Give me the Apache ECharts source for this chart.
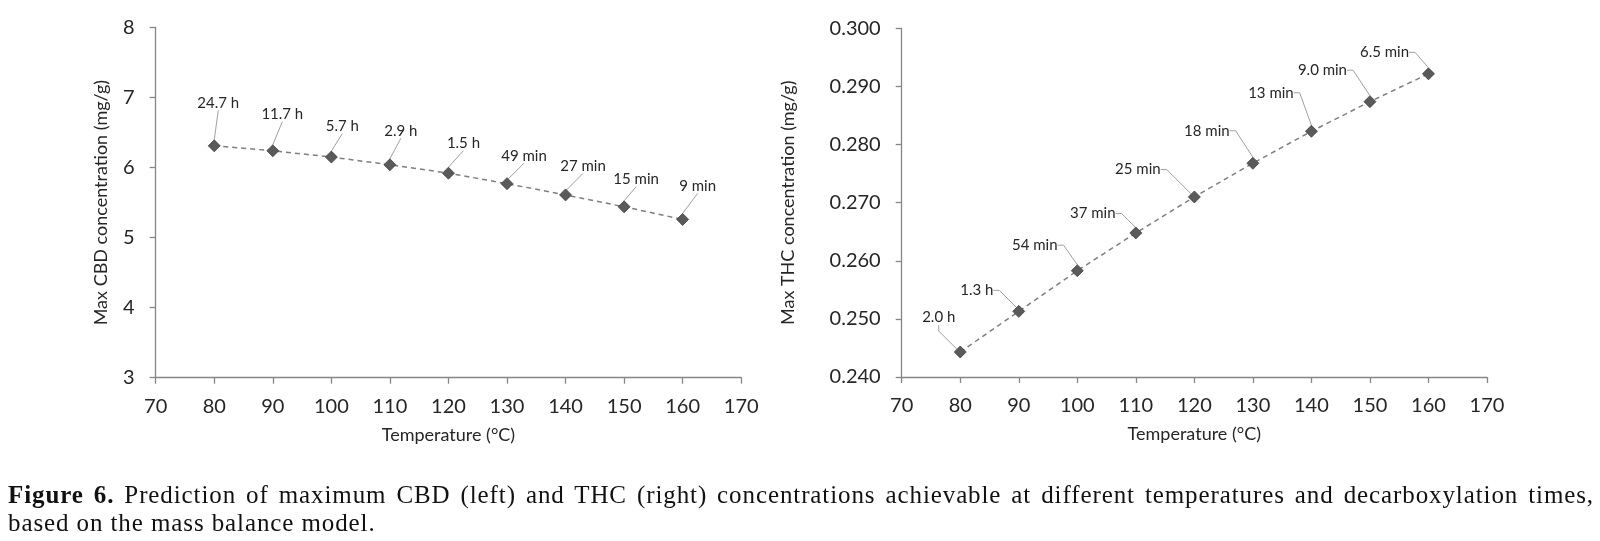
<!DOCTYPE html>
<html>
<head>
<meta charset="utf-8">
<script src="https://cdn.jsdelivr.net/npm/echarts@6/dist/echarts.min.js"></script>
<style>
  html, body { margin: 0; padding: 0; background: #ffffff; }
  #chart { position: absolute; left: 0; top: 0; width: 1600px; height: 541px; }
  #caption { position: absolute; left: 8px; top: 481px; width: 1586px; font-family: 'Liberation Serif', 'DejaVu Serif', serif; font-size: 25px; letter-spacing: 0.9px; line-height: 28px; color: #111111; }
  #caption .l1 { text-align: justify; text-align-last: justify; }
</style>
</head>
<body>
<div id="chart"></div>
<div id="caption">
  <div class="l1"><b>Figure 6.</b> Prediction of maximum CBD (left) and THC (right) concentrations achievable at different temperatures and decarboxylation times,</div>
  <div>based on the mass balance model.</div>
</div>
<script>
// ---- data ----
const temperatures = [80, 90, 100, 110, 120, 130, 140, 150, 160];
const cbdMax = [6.31, 6.24, 6.15, 6.04, 5.92, 5.77, 5.61, 5.44, 5.26];
const thcMax = [0.2443, 0.2513, 0.2583, 0.2648, 0.2710, 0.2768, 0.2823, 0.2874, 0.2922];
const cbdTimes = ['24.7 h', '11.7 h', '5.7 h', '2.9 h', '1.5 h', '49 min', '27 min', '15 min', '9 min'];
const thcTimes = ['2.0 h', '1.3 h', '54 min', '37 min', '25 min', '18 min', '13 min', '9.0 min', '6.5 min'];
const xAxisName = 'Temperature (°C)';
const cbdAxisName = 'Max CBD concentration (mg/g)';
const thcAxisName = 'Max THC concentration (mg/g)';

// ---- label placement (layout only: offset of each label from its marker) ----
const cbdLabelOffsets = [[4, -43], [9.5, -36.5], [11, -31], [11, -34], [15, -30], [17, -28], [17.5, -29], [12, -27.5], [15, -33.5]];
const thcLabelOffsets = [[-21.5, -34.5], [-42, -21], [-42.5, -25.5], [-43, -19.5], [-56.5, -27.5], [-46, -32.5], [-40.5, -38.5], [-47.5, -31.5], [-44, -21.5]];

const FONT = 'Lato';
const TXT = '#262626';
const AXC = '#868686';

function pairs(xs, ys) { return xs.map((x, i) => [x, ys[i]]); }

function xAxisCfg(gridIndex) {
  return {
    type: 'value', gridIndex, min: 70, max: 170, interval: 10,
    name: xAxisName, nameLocation: 'middle', nameGap: 48,
    nameTextStyle: { fontFamily: FONT, fontSize: 18, color: TXT },
    axisLine: { show: true, lineStyle: { color: AXC, width: 1.3 } },
    axisTick: { show: true, length: 6, lineStyle: { color: AXC, width: 1.3 } },
    axisLabel: { fontFamily: FONT, fontSize: 20, color: TXT, margin: 19 },
    splitLine: { show: false }
  };
}
function yAxisCfg(gridIndex, min, max, interval, name, gap, fmt) {
  return {
    type: 'value', gridIndex, min, max, interval,
    name, nameLocation: 'middle', nameGap: gap,
    nameTextStyle: { fontFamily: FONT, fontSize: 18, color: TXT },
    axisLine: { show: true, lineStyle: { color: AXC, width: 1.3 } },
    axisTick: { show: true, length: 6, lineStyle: { color: AXC, width: 1.3 } },
    axisLabel: { fontFamily: FONT, fontSize: 20, color: TXT, margin: 21, formatter: fmt },
    splitLine: { show: false }
  };
}
function seriesCfg(idx, ys, labels, offsets, len2) {
  return {
    type: 'line', xAxisIndex: idx, yAxisIndex: idx,
    data: pairs(temperatures, ys),
    symbol: 'diamond', symbolSize: 12, showAllSymbol: true,
    lineStyle: { color: '#7f7f7f', width: 1.5, type: [5, 4] },
    itemStyle: { color: '#5a5a5a', borderColor: '#404040', borderWidth: 0.8 },
    label: {
      show: true, position: 'inside', fontFamily: FONT, fontSize: 15, color: TXT,
      padding: 2,
      formatter: p => labels[p.dataIndex]
    },
    labelLine: { show: true, length2: len2, minTurnAngle: 90, lineStyle: { color: '#a0a0a0', width: 1 } },
    labelLayout: p => ({ dx: offsets[p.dataIndex][0], dy: offsets[p.dataIndex][1] }),
    emphasis: { disabled: true },
    z: 3
  };
}

const chart = echarts.init(document.getElementById('chart'), null, { renderer: 'canvas' });
chart.setOption({
  animation: false,
  backgroundColor: '#ffffff',
  grid: [
    { left: 155.7, top: 27.5, width: 585.5, height: 350.2 },
    { left: 901.7, top: 28.5, width: 585.3, height: 348.5 }
  ],
  xAxis: [xAxisCfg(0), xAxisCfg(1)],
  yAxis: [
    yAxisCfg(0, 3, 8, 1, cbdAxisName, 46, v => String(v)),
    yAxisCfg(1, 0.24, 0.30, 0.01, thcAxisName, 105, v => v.toFixed(3))
  ],
  series: [
    seriesCfg(0, cbdMax, cbdTimes, cbdLabelOffsets, 0),
    seriesCfg(1, thcMax, thcTimes, thcLabelOffsets, 6)
  ]
});
</script>
</body>
</html>
